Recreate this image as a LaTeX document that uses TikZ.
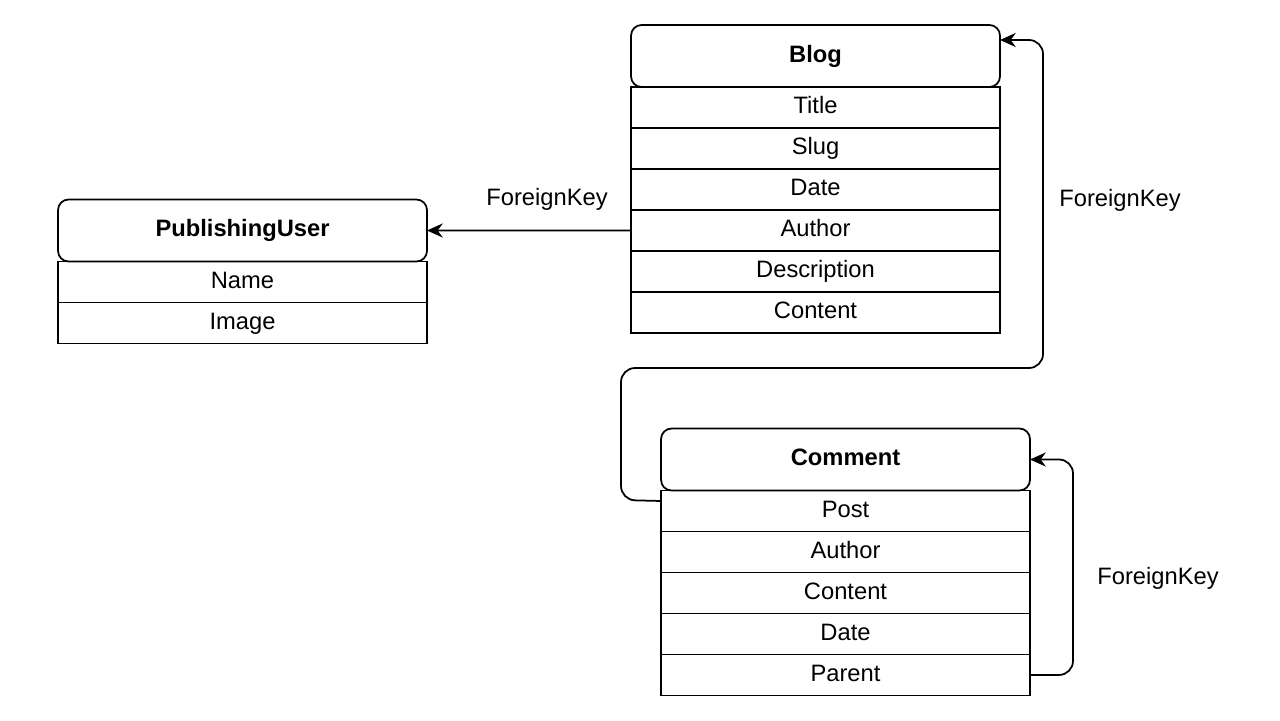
\documentclass[tikz,border=0pt]{standalone}
\usepackage{fontspec}
\setmainfont{Liberation Sans}
\usetikzlibrary{arrows.meta, positioning}

\tikzset{
  header/.style={draw, line width=1pt, rounded corners=6pt, minimum width=7.38cm,
    minimum height=1.24cm, inner sep=0pt, outer sep=0pt,
    text height=9.7pt, text depth=2.8pt,
    font=\fontsize{13.5pt}{16pt}\selectfont\bfseries},
  field/.style={draw, line width=1pt, minimum width=7.38cm, minimum height=0.82cm,
    inner sep=0pt, outer sep=0pt, text height=9.7pt, text depth=2.8pt,
    font=\fontsize{13.5pt}{16pt}\selectfont},
  fk/.style={line width=1pt, rounded corners=8pt, -{Stealth[length=9pt, width=8pt]}},
  fklabel/.style={font=\fontsize{13.5pt}{16pt}\selectfont},
}

\begin{document}
\begin{tikzpicture}[x=0.02cm, y=-0.02cm]
\useasboundingbox (0,0) rectangle (1280,720);

% Blog table
\node[header] (blog) at (815.5,56) {Blog};
\node[field, below=0pt of blog] (btitle) {Title};
\node[field, below=0pt of btitle] (bslug) {Slug};
\node[field, below=0pt of bslug] (bdate) {Date};
\node[field, below=0pt of bdate] (bauthor) {Author};
\node[field, below=0pt of bauthor] (bdesc) {Description};
\node[field, below=0pt of bdesc] (bcontent) {Content};

% PublishingUser table
\node[header] (puser) at (242.5,230.5) {PublishingUser};
\node[field, below=0pt of puser] (pname) {Name};
\node[field, below=0pt of pname] (pimage) {Image};

% Comment table
\node[header] (comment) at (845.5,459.5) {Comment};
\node[field, below=0pt of comment] (cpost) {Post};
\node[field, below=0pt of cpost] (cauthor) {Author};
\node[field, below=0pt of cauthor] (ccontent) {Content};
\node[field, below=0pt of ccontent] (cdate) {Date};
\node[field, below=0pt of cdate] (cparent) {Parent};

% foreign keys
\draw[fk] (bauthor.west) -- (puser.east);
\node[fklabel] (fkuser) at (547,199) {ForeignKey};

\draw[fk] ([yshift=0.2cm]cpost.west) -- (621,500) -- (621,368) -- (1043,368)
  -- (1043,40) -- ([yshift=0.32cm]blog.east);
\node[fklabel] (fkblog) at (1120,200) {ForeignKey};

\draw[fk] (cparent.east) -| (1073,459.5) -- (comment.east);
\node[fklabel] (fkparent) at (1158,578) {ForeignKey};
\end{tikzpicture}
\end{document}
